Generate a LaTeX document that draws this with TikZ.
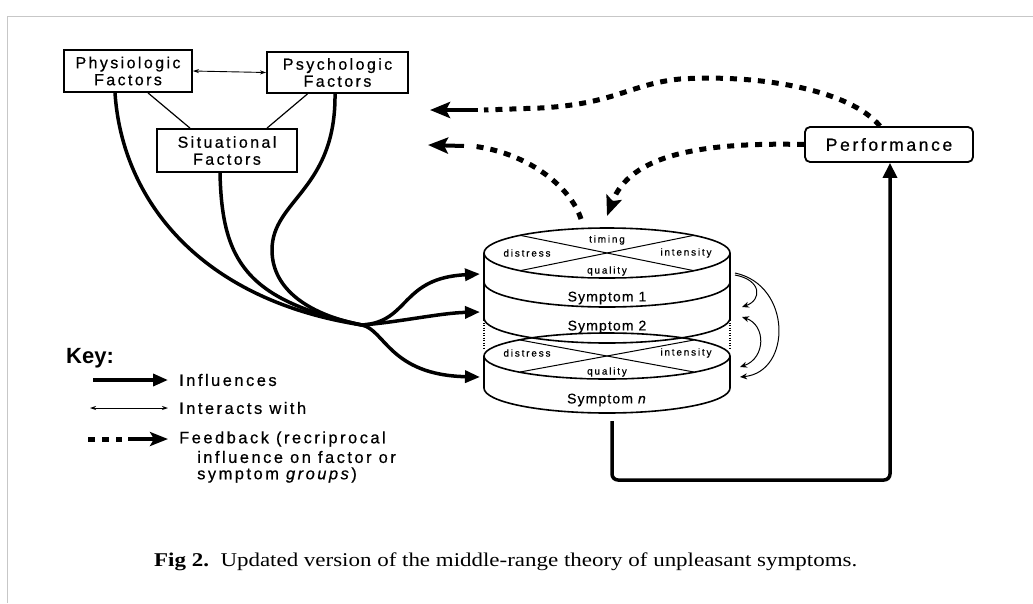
\documentclass[tikz,border=0pt]{standalone}
\usepackage{fontspec}
\setmainfont{Liberation Sans}
\newfontfamily\lab[LetterSpace=15,FakeBold=0.6]{Liberation Sans}
\newfontfamily\labt[LetterSpace=18,FakeBold=0.4]{Liberation Sans}
\newfontfamily\labs[LetterSpace=8,FakeBold=0.5]{Liberation Sans}
\newfontfamily\capfont{Liberation Serif}
\usetikzlibrary{arrows.meta}
\tikzset{
  factor/.style={draw, line width=1.8pt, align=center, inner sep=0pt,
    font=\lab\fontsize{16}{17}\selectfont},
  thickl/.style={line width=3.5pt},
  influence/.style={line width=3.5pt, -{Triangle[length=15pt,width=12pt]}},
  interact/.style={line width=0.9pt, {Stealth[length=6pt,width=4pt]}-{Stealth[length=6pt,width=4pt]}},
  fbdots/.style={line width=5pt, dash pattern=on 7pt off 7pt},
  fb/.style={fbdots, -{Stealth[length=20pt,width=16pt,inset=4pt]}},
  fbhead/.style={line width=4pt, -{Stealth[length=20pt,width=16pt,inset=4pt]}},
  thinarc/.style={line width=1pt},
  stackline/.style={line width=1.6pt},
  tiny/.style={font=\labt\fontsize{10}{11}\selectfont, fill=white, inner sep=1pt},
  symp/.style={font=\labs\fontsize{14}{15}\selectfont, inner sep=0pt},
  keytxt/.style={anchor=west, font=\lab\fontsize{16.5}{17}\selectfont, inner sep=0pt}
}
\begin{document}
\begin{tikzpicture}[x=1pt,y=-1pt]
\useasboundingbox (0,0) rectangle (1033,603);
\fill[white] (0,0) rectangle (1033,603);
\draw[black!22, line width=1pt] (7,603) -- (7,16) -- (1033,16);

% factor boxes
\node[factor, minimum width=128pt, minimum height=42pt] (phys) at (128,71) {Physiologic\\Factors};
\node[factor, minimum width=141pt, minimum height=41pt] (psych) at (337.5,72.5) {Psychologic\\Factors};
\node[factor, minimum width=140pt, minimum height=43pt] (situ) at (227,150.5) {Situational\\Factors};
\node[factor, minimum width=168pt, minimum height=35pt, rounded corners=5pt,
  font=\lab\fontsize{17.5}{18}\selectfont] (perf) at (889,144.5) {Performance};

\draw[interact] (phys.east) -- (psych.west);
\draw[line width=1.2pt] ([xshift=20pt]phys.south) -- ([xshift=-37pt]situ.north);
\draw[line width=1.2pt] ([xshift=-30pt]psych.south) -- ([xshift=40pt]situ.north);

% influence curves
\coordinate (hub) at (362,325);
\draw[thickl] ([xshift=-13pt]phys.south) .. controls (122,200) and (200,300) .. (hub);
\draw[thickl] ([xshift=-7pt]situ.south) .. controls (222,260) and (245,300) .. (hub);
\draw[thickl] ([xshift=-2.5pt]psych.south) .. controls (336,190) and (272,200) .. (272,250)
   .. controls (272,290) and (310,315) .. (hub);

% stack
\coordinate (in1) at (480,274);
\coordinate (in2) at (480,312);
\coordinate (in3) at (480,377);
\draw[influence] (hub) .. controls (410,322) and (400,278) .. (in1);
\draw[influence] (hub) .. controls (400,322) and (440,313) .. (in2);
\draw[influence] (hub) .. controls (385,330) and (390,375) .. (in3);

\draw[stackline] (607,253) ellipse [x radius=123pt, y radius=25pt];
\draw[stackline] (484,282) arc[start angle=180, end angle=360, x radius=123pt, y radius=25pt];
\draw[stackline] (484,318) arc[start angle=180, end angle=360, x radius=123pt, y radius=25pt];
\draw[stackline] (607,356) ellipse [x radius=123pt, y radius=23pt];
\draw[stackline] (484,388) arc[start angle=180, end angle=360, x radius=123pt, y radius=25pt];
\draw[stackline] (484,253) -- (484,320);
\draw[stackline] (730,253) -- (730,320);
\draw[line width=1.6pt, dash pattern=on 1pt off 1.5pt] (484,320) -- (484,350);
\draw[line width=1.6pt, dash pattern=on 1pt off 1.5pt] (730,320) -- (730,350);
\draw[stackline] (484,356) -- (484,388);
\draw[stackline] (730,356) -- (730,388);
\draw[line width=1pt] (520,235.3) -- (694,270.7);
\draw[line width=1pt] (694,235.3) -- (520,270.7);
\draw[line width=1pt] (520,340) -- (694,372);
\draw[line width=1pt] (694,340) -- (520,372);

\node[tiny] (timing) at (607,240) {timing};
\node[tiny] (dis1) at (527,253) {distress};
\node[tiny] (int1) at (686,253) {intensity};
\node[tiny] (qual1) at (607,271) {quality};
\node[symp] (s1) at (607,298) {Symptom 1};
\node[symp] (s2) at (607,327) {Symptom 2};
\node[tiny] (dis2) at (527,353) {distress};
\node[tiny] (int2) at (686,353) {intensity};
\node[tiny] (qual2) at (607,372) {quality};
\node[symp] (sn) at (607,400) {Symptom \textit{n}};

% right-side interaction arcs
\coordinate (r1a) at (735,275);
\coordinate (r1b) at (742,307);
\coordinate (r2a) at (742,317);
\coordinate (r2b) at (740,367);
\coordinate (r3a) at (735,273);
\coordinate (r3b) at (740,377);
\draw[thinarc, -{Stealth[length=7pt,width=6pt]}] (r1a) .. controls (762,280) and (762,300) .. (r1b);
\draw[thinarc, {Stealth[length=7pt,width=6pt]}-{Stealth[length=7pt,width=6pt]}] (r2a) .. controls (766,325) and (766,358) .. (r2b);
\draw[thinarc, -{Stealth[length=7pt,width=6pt]}] (r3a) .. controls (792,285) and (792,372) .. (r3b);

% feedback
\coordinate (fb1) at (430,110);
\coordinate (fb1s) at (478,110);
\coordinate (fb2) at (428,145);
\coordinate (fb2s) at (464,146);
\coordinate (top1) at (581,219);
\coordinate (top2) at (607,216);
\draw[fbdots] ([xshift=-9pt]perf.north) .. controls (850,90) and (760,74) .. (680,79)
   .. controls (630,84) and (615,104) .. (540,108) -- ([xshift=6pt]fb1s);
\draw[fbhead] (fb1s) -- (fb1);
\draw[fbdots] (top1) .. controls (570,185) and (525,152) .. ([xshift=8pt]fb2s);
\draw[fbhead] (fb2s) -- (fb2);
\draw[fb] (perf.west) .. controls (700,142) and (630,155) .. (top2);

% performance link
\coordinate (stackbot) at (612,421);
\coordinate (corner) at (890,480);
\draw[line width=3.5pt, rounded corners=6pt, -{Triangle[length=15pt,width=14pt]}]
  (stackbot) |- (corner) -- (perf.south -| corner);

% key
\node[anchor=west, font=\fontsize{22}{24}\selectfont\bfseries, inner sep=0pt] (key) at (66,358) {Key:};
\coordinate (k1a) at (93,380); \coordinate (k1b) at (168,380);
\coordinate (k2a) at (90,408); \coordinate (k2b) at (168,408);
\coordinate (k3a) at (88,439); \coordinate (k3m) at (128,439); \coordinate (k3b) at (168,439);
\draw[influence] (k1a) -- (k1b);
\draw[interact] (k2a) -- (k2b);
\draw[fbdots] (k3a) -- ([xshift=-6pt]k3m);
\draw[fbhead, -{Stealth[length=18pt,width=14pt,inset=4pt]}] (k3m) -- (k3b);
\node[keytxt] (t1) at (179,380) {Influences};
\node[keytxt] (t2) at (179,408) {Interacts with};
\node[keytxt] (t3) at (179,439) {Feedback (recriprocal};
\node[keytxt] (t4) at (197,457) {influence on factor or};
\node[keytxt] (t5) at (197,475) {symptom \textit{groups})};

% caption
\node[anchor=west, inner sep=0pt, font=\capfont\fontsize{19.5}{21}\selectfont] (cap) at (154,562)
  {\scalebox{1.177}[1]{\textbf{Fig 2.}\ \ Updated version of the middle-range theory of unpleasant symptoms.}};
\end{tikzpicture}
\end{document}
